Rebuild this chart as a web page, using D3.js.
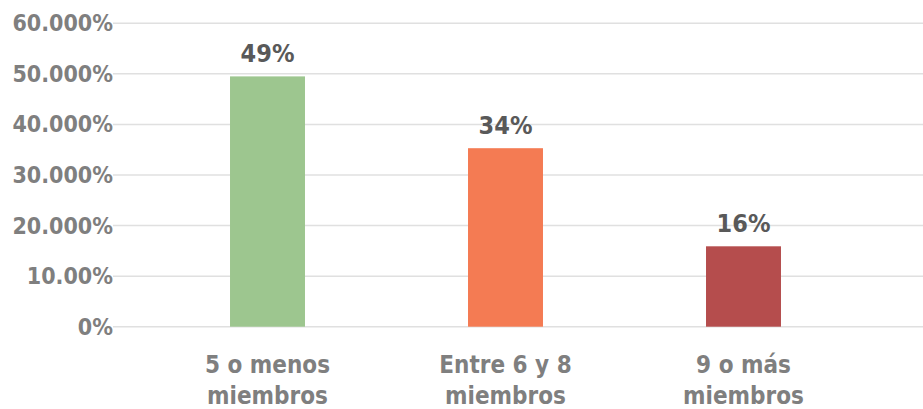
<!DOCTYPE html>
<html>
<head>
<meta charset="utf-8">
<script src="https://cdn.jsdelivr.net/npm/d3@7"></script>
<style>
  body { margin: 0; background: #fff; }
  text { font-family: "DejaVu Sans Condensed", "DejaVu Sans", sans-serif; font-stretch: condensed; font-weight: bold; }
</style>
</head>
<body>
<svg id="chart" width="923" height="409"></svg>
<script>
var categories = [["5 o menos", "miembros"], ["Entre 6 y 8", "miembros"], ["9 o más", "miembros"]];
var values = [0.495, 0.353, 0.159];
var valueLabels = ["49%", "34%", "16%"];
var colors = ["#9dc68f", "#f47b53", "#b54d4d"];
var tickValues = [0, 0.1, 0.2, 0.3, 0.4, 0.5, 0.6];
var tickLabels = ["0%", "10.00%", "20.000%", "30.000%", "40.000%", "50.000%", "60.000%"];

var svg = d3.select("#chart");

var x = d3.scaleBand()
  .domain(d3.range(values.length))
  .range([148.5, 862.5])
  .paddingInner(0.685)
  .paddingOuter(0.3425);

var y = d3.scaleLinear()
  .domain([0, 0.6])
  .range([326.7, 23.3]);

// gridlines
svg.append("g").selectAll("line")
  .data(tickValues)
  .enter().append("line")
    .attr("x1", 113)
    .attr("x2", 923)
    .attr("y1", function(d) { return y(d); })
    .attr("y2", function(d) { return y(d); })
    .attr("stroke", "#e0e0e0")
    .attr("stroke-width", 1.5);

// y labels
svg.append("g").selectAll("text")
  .data(tickValues)
  .enter().append("text")
    .attr("x", 113)
    .attr("y", function(d) { return y(d) + 8; })
    .attr("text-anchor", "end")
    .attr("fill", "#7f7f7f")
    .style("font-size", "23px")
    .text(function(d, i) { return tickLabels[i]; });

// bars
svg.append("g").selectAll("rect")
  .data(values)
  .enter().append("rect")
    .attr("x", function(d, i) { return x(i); })
    .attr("width", x.bandwidth())
    .attr("y", function(d) { return y(d); })
    .attr("height", function(d) { return y(0) - y(d); })
    .attr("fill", function(d, i) { return colors[i]; });

// value labels
svg.append("g").selectAll("text")
  .data(values)
  .enter().append("text")
    .attr("x", function(d, i) { return x(i) + x.bandwidth() / 2; })
    .attr("y", function(d) { return y(d) - 14; })
    .attr("text-anchor", "middle")
    .attr("fill", "#595959")
    .style("font-size", "25px")
    .text(function(d, i) { return valueLabels[i]; });

// category labels
var cat = svg.append("g").selectAll("text")
  .data(categories)
  .enter().append("text")
    .attr("text-anchor", "middle")
    .attr("fill", "#7f7f7f")
    .style("font-size", "24px");

cat.selectAll("tspan")
  .data(function(d, i) { return d.map(function(s) { return { s: s, i: i }; }); })
  .enter().append("tspan")
    .attr("x", function(d) { return x(d.i) + x.bandwidth() / 2; })
    .attr("y", function(d, j) { return 373 + j * 31; })
    .text(function(d) { return d.s; });
</script>
</body>
</html>
